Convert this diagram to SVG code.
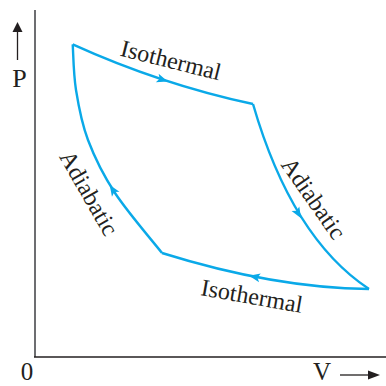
<svg xmlns="http://www.w3.org/2000/svg" width="386" height="386" viewBox="0 0 386 386">
<style>
.lbl{font-family:"Liberation Serif","Times New Roman",serif;fill:#231f20;}
.curve{fill:none;stroke:#0aa9e8;stroke-width:2.4;stroke-linejoin:miter;}
.ah{fill:#0aa9e8;}
.ax{fill:#231f20;}
</style>
<defs>
<path id="head" d="M6,0 L-5,-4.5 L-2.5,0 L-5,4.5 Z"/>
</defs>
<rect width="386" height="386" fill="#ffffff"/>
<g id="axes">
<line x1="35" y1="10" x2="35" y2="357" stroke="#6d6e71" stroke-width="2"/>
<line x1="34" y1="357" x2="386" y2="357" stroke="#231f20" stroke-width="1.5"/>
<line x1="17.5" y1="60" x2="17.5" y2="30" stroke="#231f20" stroke-width="1.3"/>
<path class="ax" d="M17.5,22 L22.5,32 L12.5,32 Z"/>
<line x1="340" y1="375" x2="370" y2="375" stroke="#231f20" stroke-width="1.3"/>
<path class="ax" d="M380,375 L368,370.5 L368,379.5 Z"/>
<text class="lbl" x="19.5" y="87" font-size="26" text-anchor="middle">P</text>
<text class="lbl" x="27" y="380" font-size="25" text-anchor="middle">0</text>
<text class="lbl" x="322" y="380" font-size="25" text-anchor="middle">V</text>
</g>
<g id="connectors">
<path id="iso-top" class="curve" d="M72.7,44.3 Q160,84 253,104"/>
<path id="adia-right" class="curve" d="M253,104 C275,180 310,250 369,289"/>
<path id="iso-bottom" class="curve" d="M369,289 Q274,288 162,253"/>
<path id="adia-left" class="curve" d="M162,253 C154.2,243 127.3,211.8 115,193 C102.7,174.2 94.5,157.2 88,140 C81.5,122.8 78.55,105.95 76,90 C73.45,74.05 73.25,51.9 72.7,44.3"/>
<use href="#head" class="ah" transform="translate(162,79.5) rotate(18.3)"/>
<use href="#head" class="ah" transform="translate(298,213) rotate(59)"/>
<use href="#head" class="ah" transform="translate(255,277) rotate(191)"/>
<use href="#head" class="ah" transform="translate(113,190) rotate(236.8)"/>
</g>
<g id="labels">
<text class="lbl" font-size="24" text-anchor="middle" transform="translate(169,68) rotate(14)">Isothermal</text>
<text class="lbl" font-size="24" text-anchor="middle" transform="translate(250.5,304) rotate(10)">Isothermal</text>
<text class="lbl" font-size="24" text-anchor="middle" transform="translate(82,197) rotate(60)">Adiabatic</text>
<text class="lbl" font-size="24" text-anchor="middle" transform="translate(307,203) rotate(55)">Adiabatic</text>
</g>
</svg>
